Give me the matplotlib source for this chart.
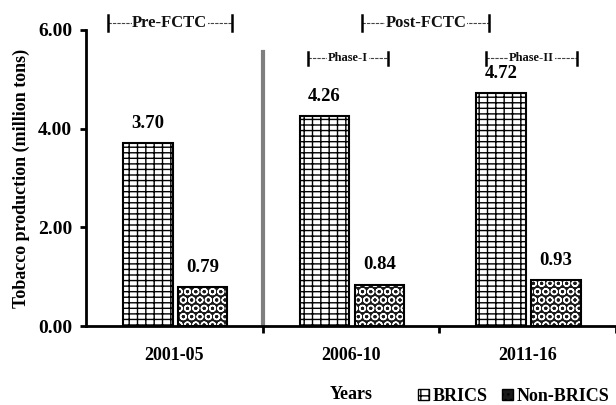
import matplotlib
matplotlib.use("Agg")
from matplotlib import pyplot as plt
from matplotlib.patches import Patch

plt.rcParams["font.family"] = ["Liberation Serif", "DejaVu Serif"]
plt.rcParams["font.weight"] = "bold"
plt.rcParams["hatch.linewidth"] = 1.0

periods = ["2001-05", "2006-10", "2011-16"]
brics = [3.70, 4.26, 4.72]
non_brics = [0.79, 0.84, 0.93]
y_ticks = [0.0, 2.0, 4.0, 6.0]

# bracket labels above the bars: (text, x start, x end, y, font size, bar half height)
brackets = [
    ("Pre-FCTC", -0.376, 0.325, 6.14, 12, 0.17),
    ("Post-FCTC", 1.065, 1.782, 6.14, 12, 0.17),
    ("Phase-I", 0.754, 1.212, 5.43, 9, 0.13),
    ("Phase-II", 1.766, 2.280, 5.43, 9, 0.13),
]

fig = plt.figure(figsize=(6.16, 4.05), dpi=100)
ax = fig.add_axes([0.1396, 0.195, 0.8604, 0.731])

x = list(range(len(periods)))
w = 0.28
ax.bar([i - 0.15 for i in x], brics, width=w, color="white",
       edgecolor="black", linewidth=1.5, hatch="---||", label="BRICS")
# non-BRICS: white rings on black, outline drawn on top
ax.bar([i + 0.16 for i in x], non_brics, width=w, color="#1a1a1a",
       edgecolor="white", linewidth=0, hatch="OO")
ax.bar([i + 0.16 for i in x], non_brics, width=w, color="none",
       edgecolor="black", linewidth=1.5, label="Non-BRICS")

for i in x:
    ax.annotate(f"{brics[i]:.2f}", (i - 0.15, brics[i]), xytext=(0, 8),
                textcoords="offset points", ha="center", va="bottom",
                fontsize=13.5, fontweight="bold")
    ax.annotate(f"{non_brics[i]:.2f}", (i + 0.16, non_brics[i]), xytext=(0, 8),
                textcoords="offset points", ha="center", va="bottom",
                fontsize=13.5, fontweight="bold")

# separator between pre and post FCTC
ax.plot([0.5, 0.5], [0, 5.55], color="#7f7f7f", linewidth=3, zorder=1)

for label, x0, x1, yb, fs, hh in brackets:
    ax.plot([x0, x1], [yb, yb], color="#444444", linewidth=0.8,
            linestyle=(0, (3, 1)), clip_on=False)
    ax.plot([x0, x0], [yb - hh, yb + hh], color="black", linewidth=1.8,
            clip_on=False)
    ax.plot([x1, x1], [yb - hh, yb + hh], color="black", linewidth=1.8,
            clip_on=False)
    ax.text((x0 + x1) / 2, yb, label, ha="center", va="center", fontsize=fs,
            fontweight="bold", color="#111111",
            bbox=dict(facecolor="white", edgecolor="none", pad=0.5))

ax.set_xlim(-0.5, 2.5)
ax.set_ylim(0, 6)
ax.set_yticks(y_ticks)
ax.set_yticklabels([f"{v:.2f}" for v in y_ticks])
ax.set_xticks(x)
ax.set_xticklabels(periods)
ax.set_xticks([0.5, 1.5, 2.5], minor=True)
ax.tick_params(axis="x", which="major", length=0, pad=15, labelsize=13)
ax.tick_params(axis="x", which="minor", length=5, width=2, direction="out")
ax.tick_params(axis="y", length=4, width=2, direction="out", labelsize=14, pad=6)

for s in ["top", "right"]:
    ax.spines[s].set_visible(False)
for s in ["left", "bottom"]:
    ax.spines[s].set_linewidth(2)

ax.set_ylabel("Tobacco production (million tons)", fontsize=13,
              fontweight="bold", labelpad=6)
ax.set_xlabel("Years", fontsize=13, fontweight="bold", labelpad=16)

handles = [Patch(facecolor="white", edgecolor="black", hatch="--||", label="BRICS"),
           Patch(facecolor="#1a1a1a", edgecolor="black", hatch="...",
                 label="Non-BRICS")]
fig.legend(handles=handles, loc="lower right", bbox_to_anchor=(1.015, -0.04),
           ncol=2, frameon=False, fontsize=13, handlelength=0.6,
           handleheight=0.6, handletextpad=0.2, columnspacing=0.8)

fig.savefig("out.png", dpi=100)
